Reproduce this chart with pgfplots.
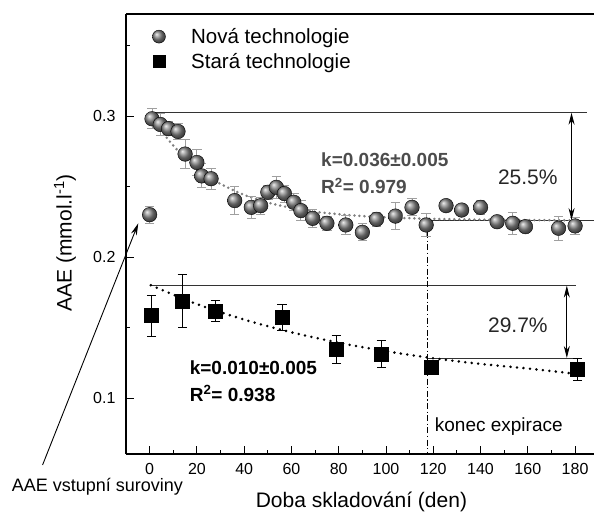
\documentclass[border=0pt]{standalone}
\usepackage{fontspec}
\setmainfont{Liberation Sans}
\usepackage{pgfplots}
\usepackage{pgfplotstable}
\pgfplotsset{compat=1.18}
\usetikzlibrary{arrows.meta}
\pgfplotsset{mylegimg/.style={legend image code/.code={\draw[##1, mark size=#1] plot coordinates {(0pt,0pt)}; \path (-8.5pt,0pt) (30pt,0pt);}}}

\pgfplotstableread{
x y e
0 0.230 0.006
1 0.298 0.007
4.5 0.294 0.008
8 0.291 0.005
12 0.289 0.006
15 0.273 0.010
20 0.267 0.009
22 0.2575 0.0085
26 0.2555 0.0075
36 0.240 0.010
43 0.2352 0.0077
47 0.2364 0.006
50 0.2459 0.005
53.6 0.2494 0.0077
57 0.245 0.006
61 0.2388 0.006
64 0.2329 0.007
69 0.2274 0.0065
75 0.2239 0.005
83 0.2227 0.007
90 0.2175 0.006
96 0.2267 0.005
104 0.229 0.0097
111 0.2352 0.006
117 0.2227 0.008
125.4 0.2364 0
132 0.2333 0
140 0.2352 0.005
147 0.225 0.002
153.6 0.2239 0.008
159 0.2215 0.004
173 0.2204 0.0085
180 0.222 0.006
}\newtech

\pgfplotstableread{
x y e
0.8 0.1584 0.0145
13.8 0.1688 0.019
27.8 0.1619 0.0076
56 0.1572 0.009
79 0.1345 0.010
98 0.1312 0.0093
119 0.1218 0.004
181 0.1204 0.008
}\oldtech

\begin{document}
\begin{tikzpicture}
\begin{axis}[
  scale only axis, width=468pt, height=440pt,
  xmin=-10, xmax=188, ymin=0.0603, ymax=0.3723,
  axis x line*=box, axis y line*=left,
  xtick={0,20,...,180}, ytick={0.1,0.2,0.3},
  minor xtick={10,30,...,170}, minor ytick={0.15,0.25,0.35},
  tick align=inside, xtick pos=bottom, ytick pos=left,
  major tick length=8pt, minor tick length=4.5pt,
  tick style={black, line width=0.9pt},
  axis line style={line width=1.1pt},
  clip=false,
  /pgf/number format/assume math mode=true,
  tick label style={font=\fontsize{16}{19}\selectfont},
  xticklabel style={yshift=-6pt},
  yticklabel style={xshift=-7pt, /pgf/number format/fixed, /pgf/number format/precision=1},
  xlabel={Doba skladování (den)},
  ylabel={AAE (mmol.l\textsuperscript{-1})},
  label style={font=\fontsize{21}{25}\selectfont},
  xlabel style={at={(axis description cs:0.503,-0.109)}, anchor=center},
  ylabel style={at={(axis description cs:-0.1303,0.48)}, anchor=center},
  legend style={at={(axis description cs:0.045,0.977)}, anchor=north west, draw=none, fill=none,
    font=\fontsize{20.5}{24}\selectfont, legend cell align=left, row sep=4pt},
]
% reference lines
\addplot[black!80, line width=0.9pt, forget plot] coordinates {(0,0.3023) (185,0.3023)};
\addplot[black!80, line width=0.9pt, forget plot] coordinates {(117.6,0.2262) (188,0.2262)};
\addplot[black!80, line width=0.9pt, forget plot] coordinates {(0.5,0.1797) (180.5,0.1797)};
\addplot[black!80, line width=0.9pt, forget plot] coordinates {(117.6,0.1284) (180.5,0.1284)};
\addplot[black, line width=1pt, dash pattern=on 6pt off 2.5pt on 1.2pt off 2.5pt, forget plot] coordinates {(117.6,0.2262) (117.6,0.0603)};
% fits
\addplot[black!50, line width=2.8pt, line cap=round, dash pattern=on 0pt off 5pt, smooth, forget plot] coordinates {
(0,0.302) (5,0.2895) (10,0.279) (15,0.2703) (20,0.263) (25,0.2569) (30,0.2518) (40,0.244) (50,0.2386) (60,0.2348) (70,0.2321) (80,0.2303) (90,0.229) (100,0.2281) (110,0.2275) (120,0.227) (135,0.2266) (150,0.2263) (165,0.2261) (180,0.226)};
\addplot[black, line width=2.8pt, line cap=round, dash pattern=on 0pt off 6.5pt, smooth, forget plot] coordinates {
(0.5,0.180) (20,0.1666) (40,0.1556) (60,0.1466) (80,0.1392) (100,0.1332) (120,0.1282) (140,0.1242) (160,0.1209) (181,0.117)};
% data
\addplot[only marks, mark=ball, mark size=7.3pt, mark options={ball color=gray!95},
  mylegimg=6.5pt,
  error bars/.cd, y dir=both, y explicit,
  error bar style={gray!75, line width=0.9pt},
  error mark options={rotate=90, mark size=4.7pt, gray!75, line width=0.9pt}]
  table[x=x, y=y, y error=e] {\newtech};
\addlegendentry{Nová technologie}
\addplot[only marks, mark=square*, mark size=7pt, black,
  mylegimg=6pt,
  error bars/.cd, y dir=both, y explicit,
  error bar style={black, line width=0.9pt},
  error mark options={rotate=90, mark size=4.7pt, black, line width=0.9pt}]
  table[x=x, y=y, y error=e] {\oldtech};
\addlegendentry{Stará technologie}
% annotations
\draw[{Stealth[length=12pt,width=6pt]}-{Stealth[length=12pt,width=6pt]}, line width=0.9pt] (axis cs:178.5,0.3023) -- (axis cs:178.5,0.2262);
\draw[{Stealth[length=12pt,width=6pt]}-{Stealth[length=12pt,width=6pt]}, line width=0.9pt] (axis cs:176.5,0.1797) -- (axis cs:176.5,0.1284);
\node[font=\fontsize{21}{25}\selectfont, text=black!85] at (axis cs:160,0.2567) {25.5\%};
\node[font=\fontsize{21}{25}\selectfont, text=black!85] at (axis cs:155.8,0.1518) {29.7\%};
\node[anchor=west, font=\fontsize{19}{22}\selectfont\bfseries, text=black!70] at (axis cs:71.1,0.2688) {k=0.036±0.005};
\node[anchor=west, font=\fontsize{19}{22}\selectfont\bfseries, text=black!70] at (axis cs:71.1,0.2504) {R\textsuperscript{2}= 0.979};
\node[anchor=west, font=\fontsize{19}{22}\selectfont\bfseries] at (axis cs:15.5,0.1218) {k=0.010±0.005};
\node[anchor=west, font=\fontsize{19}{22}\selectfont\bfseries] at (axis cs:15.5,0.1033) {R\textsuperscript{2}= 0.938};
\node[anchor=west, font=\fontsize{19}{22}\selectfont, inner sep=0pt] at (axis cs:120.6,0.0794) {konec expirace};
\node[anchor=west, font=\fontsize{18}{22}\selectfont, inner sep=0pt] at (axis cs:-58.4,0.0369) {AAE vstupní suroviny};
\draw[-{Stealth[length=12pt,width=6pt]}, line width=0.9pt] (axis cs:-45.3,0.0525) -- (axis cs:-4.8,0.2239);
\end{axis}
\pgfresetboundingbox
\path[use as bounding box] ([xshift=-126pt,yshift=-59pt]current axis.south west) rectangle ([yshift=14pt]current axis.north east);
\end{tikzpicture}
\end{document}
